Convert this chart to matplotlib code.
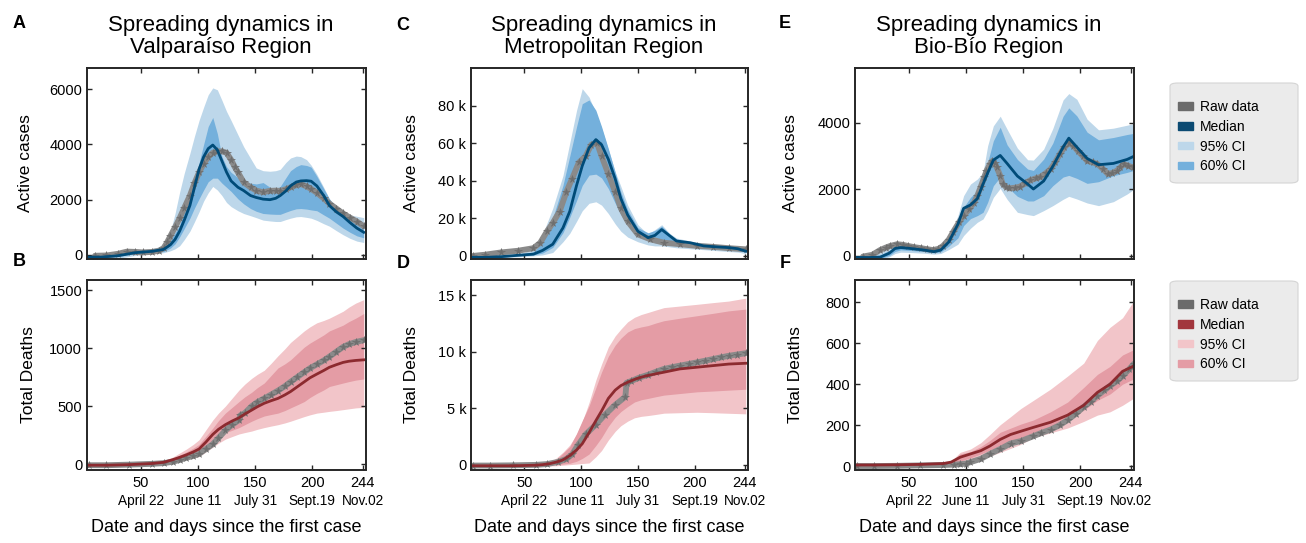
import numpy as np
import matplotlib.pyplot as plt
from matplotlib.patches import Patch, FancyBboxPatch

plt.rcParams['font.family'] = ['Liberation Sans', 'DejaVu Sans']

# ---------------- Valparaíso: active cases ----------------
val_days = [1, 15, 30, 45, 60, 70, 76, 80, 84, 88, 93, 97, 101, 105, 109, 113, 117, 121, 125, 129,
            135, 140, 146, 151, 157, 163, 168, 172, 177, 181, 186, 190, 195, 199, 204, 210, 215, 221,
            227, 233, 239, 245]
val_med = [-80, -80, -30, 80, 130, 200, 370, 560, 860, 1250, 1790, 2450, 3100, 3550, 3850, 3980, 3800,
           3400, 3000, 2680, 2450, 2330, 2150, 2080, 2020, 2000, 2050, 2150, 2320, 2500, 2640, 2680,
           2690, 2670, 2500, 2150, 1790, 1560, 1390, 1170, 970, 820]
val_hi95 = [0, 0, 60, 180, 220, 350, 860, 1500, 2270, 2950, 3680, 4300, 4870, 5350, 5800, 6050, 5980,
            5600, 5200, 4870, 4350, 3920, 3500, 3150, 3050, 3030, 3050, 3100, 3350, 3510, 3580, 3560,
            3450, 3250, 2920, 2450, 2030, 1750, 1550, 1450, 1400, 1350]
val_lo95 = [-150, -150, -120, -20, 40, 80, 150, 220, 330, 550, 860, 1200, 1560, 1950, 2250, 2480, 2350,
            2150, 1900, 1750, 1600, 1500, 1420, 1350, 1260, 1230, 1210, 1210, 1280, 1330, 1380, 1390,
            1360, 1330, 1250, 1130, 1040, 880, 730, 600, 500, 450]
val_hi60 = [-40, -40, 10, 130, 170, 250, 550, 800, 1080, 1650, 2270, 2800, 3330, 4000, 4650, 4980, 4390,
            3560, 3200, 2990, 2800, 2680, 2600, 2570, 2620, 2450, 2400, 2480, 2800, 3050, 3200, 3270,
            3240, 3180, 2850, 2400, 2030, 1700, 1480, 1330, 1200, 1100]
val_lo60 = [-100, -100, -60, 40, 90, 120, 250, 400, 650, 950, 1330, 1700, 2030, 2350, 2650, 2780, 2780,
            2600, 2450, 2300, 2030, 1850, 1680, 1580, 1500, 1480, 1470, 1470, 1550, 1610, 1670, 1680,
            1660, 1630, 1600, 1450, 1330, 1150, 970, 820, 690, 620]
val_raw_days = [10, 20, 30, 38, 45, 52, 60, 66, 70, 73, 76, 80, 84, 88, 93, 97, 101, 105, 109, 113, 117,
                121, 125, 129, 132, 135, 140, 146, 151, 157, 163, 168, 172, 177, 181, 186, 190, 195, 199,
                204, 210, 215, 221, 227, 233, 239, 245]
val_raw = [-30, -20, 40, 120, 110, 90, 110, 150, 250, 450, 690, 1000, 1330, 1700, 2150, 2600, 2990, 3300,
           3550, 3700, 3750, 3750, 3700, 3450, 3200, 2990, 2630, 2450, 2330, 2270, 2320, 2330, 2320, 2380,
           2450, 2530, 2570, 2480, 2390, 2250, 2050, 1860, 1680, 1500, 1350, 1210, 1040]

# ---------------- Valparaíso: total deaths ----------------
vald_days = [1, 20, 40, 60, 70, 78, 84, 90, 96, 101, 107, 113, 118, 124, 130, 136, 141, 147, 152, 158,
             164, 170, 176, 181, 187, 193, 198, 204, 210, 215, 221, 227, 232, 238, 245]
vald_med = [-10, -10, -5, 5, 15, 38, 58, 80, 105, 130, 190, 256, 300, 340, 372, 400, 432, 466, 495, 525,
            547, 567, 597, 626, 668, 710, 745, 777, 808, 836, 858, 878, 888, 895, 900]
vald_hi95 = [0, 0, 5, 15, 30, 60, 95, 130, 170, 210, 295, 380, 440, 500, 570, 640, 690, 740, 775, 810,
             870, 935, 995, 1050, 1100, 1150, 1185, 1220, 1240, 1260, 1290, 1320, 1355, 1390, 1420]
vald_hi60 = [-5, -5, 0, 10, 22, 48, 75, 105, 138, 170, 240, 310, 375, 440, 490, 540, 580, 620, 660, 700,
             765, 830, 865, 900, 955, 1010, 1045, 1080, 1115, 1150, 1175, 1200, 1230, 1260, 1300]
vald_lo60 = [-15, -15, -10, 0, 8, 25, 40, 58, 72, 88, 135, 185, 225, 270, 292, 315, 340, 370, 392, 415,
             428, 440, 462, 485, 512, 540, 575, 610, 640, 670, 685, 700, 712, 725, 735]
vald_lo95 = [-20, -20, -15, -5, 3, 15, 28, 40, 52, 65, 105, 145, 180, 215, 238, 260, 272, 285, 300, 315,
             328, 340, 355, 370, 390, 410, 425, 440, 448, 455, 462, 470, 477, 485, 490]
vald_raw_days = [5, 20, 40, 60, 70, 78, 84, 90, 96, 101, 107, 113, 118, 124, 130, 136, 137, 141, 147, 152,
                 158, 164, 170, 176, 181, 187, 193, 198, 204, 210, 215, 221, 227, 232, 238, 245]
vald_raw = [-10, -10, -5, 2, 8, 20, 35, 55, 70, 88, 130, 172, 225, 290, 340, 380, 420, 441, 500, 535, 567,
            600, 634, 672, 710, 752, 794, 828, 861, 895, 928, 970, 1012, 1035, 1054, 1070]

# ---------------- Metropolitan: active cases ----------------
met_days = [1, 15, 30, 44, 58, 66, 75, 84, 90, 96, 101, 107, 113, 118, 124, 130, 135, 141, 150, 159,
            165, 171, 178, 184, 196, 208, 219, 230, 238, 245]
met_med = [-800, -800, -400, 300, 900, 2900, 6200, 14900, 23700, 37500, 47900, 57500, 61900, 59200, 51400,
           41000, 30500, 21800, 13100, 9700, 10900, 14000, 10700, 7900, 7000, 5300, 4800, 4400, 3800, 2500]
met_hi95 = [-500, -500, 0, 800, 3600, 11400, 25300, 42700, 60100, 77500, 89000, 84500, 76000, 68000, 56600,
            44800, 37000, 27000, 16600, 11400, 14000, 16600, 12000, 9500, 7900, 6800, 6100, 5300, 4800, 4200]
met_hi60 = [-700, -700, -300, 500, 2200, 7000, 20100, 37500, 53100, 68800, 81000, 83000, 77500, 68800, 57000,
            44500, 34000, 24500, 15000, 12300, 13500, 15800, 11500, 9000, 7400, 6300, 5600, 4800, 4200, 3600]
met_lo60 = [-1200, -1200, -700, 0, 500, 1500, 4500, 12300, 20500, 29500, 37500, 43000, 43500, 41500, 35800,
            28000, 22000, 16600, 11400, 8200, 7000, 6500, 6000, 5600, 5000, 4600, 4000, 3300, 2900, 2000]
met_lo95 = [-1500, -1500, -1000, -500, 0, 500, 1800, 7500, 12000, 18400, 24000, 28000, 28800, 27000, 22500,
            17000, 13100, 10000, 7500, 5800, 5300, 5300, 4800, 4300, 3800, 3300, 2800, 2300, 2000, 1200]
met_raw_days = [5, 15, 29, 44, 58, 64, 70, 75, 81, 87, 92, 98, 104, 109, 114, 118, 124, 130, 135, 141,
                150, 161, 173, 187, 202, 216, 230, 245]
met_raw = [0, 600, 1800, 2700, 4100, 7000, 13100, 17500, 23600, 34000, 41000, 49700, 53100, 59200, 60100,
           53100, 43600, 34000, 25300, 18400, 11400, 8800, 7000, 6200, 5300, 4800, 4100, 3500]

# ---------------- Metropolitan: total deaths ----------------
metd_days = [1, 20, 40, 60, 66, 72, 78, 84, 90, 96, 101, 107, 113, 118, 124, 130, 135, 141, 147, 153,
             159, 166, 173, 187, 202, 216, 230, 245]
metd_med = [-100, -100, -100, -50, 0, 80, 220, 420, 800, 1300, 1850, 2830, 3900, 4750, 5870, 6600, 7000,
            7300, 7550, 7750, 7900, 8050, 8190, 8480, 8630, 8770, 8910, 8980]
metd_hi95 = [0, 0, 0, 0, 30, 200, 580, 1100, 1740, 2700, 3800, 5510, 7500, 8900, 10430, 11400, 12000,
             12650, 13050, 13300, 13480, 13700, 13910, 14050, 14200, 14350, 14490, 14750]
metd_hi60 = [-50, -50, -50, -30, 10, 150, 450, 1020, 1600, 2760, 3900, 5200, 6820, 8200, 9600, 10590,
             11200, 11750, 12050, 12200, 12320, 12550, 12750, 12970, 13190, 13400, 13620, 13780]
metd_lo60 = [-150, -150, -150, -100, -80, -50, 0, 50, 120, 300, 550, 940, 1700, 2400, 3400, 4200, 4700,
             5150, 5550, 5750, 5870, 6020, 6160, 6300, 6450, 6520, 6600, 6680]
metd_lo95 = [-200, -200, -200, -150, -150, -120, -100, -50, 0, 50, 100, 150, 700, 1250, 2180, 2950, 3450,
             3850, 4150, 4280, 4350, 4450, 4560, 4600, 4640, 4600, 4550, 4500]
metd_raw_days = [5, 20, 40, 60, 70, 80, 87, 92, 97, 104, 113, 121, 130, 139, 140, 144, 151, 159, 166, 173,
                 180, 187, 195, 202, 209, 216, 223, 230, 237, 245]
metd_raw = [-80, -80, -60, -20, 50, 250, 510, 900, 1700, 2680, 3550, 4420, 5290, 6020, 7250, 7400, 7700,
            7960, 8230, 8480, 8630, 8770, 8920, 9060, 9200, 9350, 9500, 9640, 9750, 9870]

# ---------------- Bío-Bío: active cases ----------------
bio_days = [1, 15, 25, 33, 38, 43, 52, 63, 72, 78, 85, 93, 98, 104, 110, 115, 119, 124, 130, 136, 145,
            154, 159, 168, 176, 185, 190, 197, 206, 216, 229, 241, 246]
bio_med = [-60, -60, -50, 70, 210, 240, 210, 165, 116, 165, 406, 940, 1420, 1520, 1710, 2150, 2480, 2870,
           3010, 2770, 2390, 2150, 2000, 2240, 2680, 3260, 3530, 3260, 2920, 2730, 2770, 2890, 2970]
bio_hi95 = [0, 0, 80, 250, 340, 340, 300, 240, 180, 240, 520, 1200, 1800, 2150, 2300, 2500, 3300, 3900,
            4190, 3800, 3230, 2880, 2870, 3200, 3820, 4680, 4870, 4700, 4100, 3780, 3830, 3920, 3960]
bio_hi60 = [-30, -30, 20, 150, 270, 290, 260, 200, 150, 200, 450, 1010, 1450, 1750, 1950, 2300, 2800, 3450,
            3860, 3330, 2890, 2600, 2560, 2900, 3380, 4190, 4440, 4200, 3710, 3480, 3550, 3640, 3670]
bio_lo60 = [-100, -100, -90, 0, 120, 170, 150, 120, 80, 110, 280, 530, 900, 1110, 1200, 1300, 1600, 2100,
            2360, 2070, 1780, 1640, 1640, 1800, 2100, 2360, 2410, 2320, 2170, 2220, 2400, 2500, 2550]
bio_lo95 = [-130, -130, -120, -40, 60, 100, 90, 70, 40, 60, 180, 340, 600, 820, 1000, 1100, 1350, 1750,
            2020, 1690, 1300, 1230, 1200, 1350, 1500, 1690, 1780, 1700, 1580, 1500, 1620, 1850, 1970]
bio_raw_days = [10, 18, 25, 30, 34, 40, 45, 49, 55, 61, 66, 71, 76, 80, 85, 89, 94, 98, 103, 107, 110, 113,
                116, 118, 121, 123, 125, 127, 130, 132, 135, 138, 143, 147, 152, 156, 161, 165, 170, 174,
                178, 182, 186, 190, 194, 198, 202, 206, 211, 215, 220, 224, 228, 232, 235, 238, 242, 246]
bio_raw = [-30, 20, 165, 240, 290, 340, 320, 290, 250, 220, 190, 165, 200, 290, 480, 720, 1000, 1200, 1400,
           1590, 1800, 2070, 2350, 2550, 2750, 2840, 2780, 2650, 2400, 2160, 2060, 2020, 2040, 2070, 2170,
           2260, 2320, 2360, 2480, 2600, 2800, 3040, 3250, 3380, 3300, 3140, 3000, 2850, 2800, 2750, 2600,
           2460, 2480, 2550, 2650, 2750, 2700, 2650]

# ---------------- Bío-Bío: total deaths ----------------
biod_days = [1, 20, 40, 60, 80, 87, 95, 104, 113, 121, 130, 139, 148, 159, 174, 189, 203, 215, 226, 237, 246]
biod_med = [5, 5, 6, 8, 12, 19, 43, 59, 75, 98, 130, 154, 170, 189, 214, 249, 297, 360, 400, 463, 487]
biod_hi95 = [10, 10, 12, 15, 18, 24, 67, 83, 114, 154, 202, 241, 281, 321, 376, 440, 503, 614, 678, 725, 801]
biod_hi60 = [8, 8, 9, 11, 15, 21, 59, 70, 95, 125, 165, 185, 205, 225, 265, 313, 384, 448, 487, 543, 567]
biod_lo60 = [2, 2, 3, 5, 9, 14, 24, 40, 59, 78, 98, 118, 138, 162, 186, 225, 273, 321, 352, 400, 424]
biod_lo95 = [0, 0, 1, 3, 6, 9, 11, 20, 30, 48, 67, 86, 106, 138, 162, 186, 218, 249, 265, 297, 329]
biod_raw_days = [5, 20, 40, 60, 80, 90, 95, 100, 104, 113, 121, 130, 139, 148, 159, 166, 174, 182, 189, 196,
                 203, 209, 215, 221, 226, 232, 237, 243, 247]
biod_raw = [0, 0, 1, 3, 5, 7, 9, 12, 19, 35, 59, 83, 110, 122, 146, 162, 178, 200, 225, 255, 289, 315, 344,
            370, 392, 415, 440, 475, 500]

day_ticks = [50, 100, 150, 200, 244]
date_labels = ['April 22', 'June 11', 'July 31', 'Sept.19', 'Nov.02']
legend_labels = ['Raw data', 'Median', '95% CI', '60% CI']

blue = {'c95': '#bdd7ea', 'c60': '#74b0dc', 'med': '#004b78', 'leg': '#0b4a72'}
red = {'c95': '#f2c5c9', 'c60': '#e49ca5', 'med': '#8c2a2f', 'leg': '#a2363d'}
dark = '#262626'

W, H = 1306, 543
fig = plt.figure(figsize=(W / 100, H / 100), dpi=100)


def add_ax(left, width, top, bottom):
    return fig.add_axes([left / W, 1 - bottom / H, width / W, (bottom - top) / H])


def draw(ax, days, med, lo95, hi95, lo60, hi60, rdays, raw, col):
    ax.fill_between(days, lo95, hi95, color=col['c95'], lw=0)
    ax.fill_between(days, lo60, hi60, color=col['c60'], lw=0)
    # raw data: thick fuzzy grey band of asterisks
    ax.plot(rdays, raw, color='#8a8a8a', lw=4.2, solid_capstyle='round')
    ax.plot(rdays, raw, color='#6e6e6e', lw=0, marker='*', ms=5.5, mew=0.4)
    ax.plot(days, med, color=col['med'], lw=2.0)
    ax.set_xlim(3, 247)
    ax.set_xticks(day_ticks)
    ax.tick_params(direction='in', top=True, right=True, length=3.5, width=1,
                   color=dark, labelsize=10.5, pad=3.5)
    ax.tick_params(axis='x', pad=5)
    for s in ax.spines.values():
        s.set_linewidth(1.4)
        s.set_color(dark)


lefts = [87, 471, 855]
widths = [279, 277, 279]
titles = ['Spreading dynamics in\nValparaíso Region',
          'Spreading dynamics in\nMetropolitan Region',
          'Spreading dynamics in\nBio-Bío Region']

top_sets = [
    (val_days, val_med, val_lo95, val_hi95, val_lo60, val_hi60, val_raw_days, val_raw),
    (met_days, met_med, met_lo95, met_hi95, met_lo60, met_hi60, met_raw_days, met_raw),
    (bio_days, bio_med, bio_lo95, bio_hi95, bio_lo60, bio_hi60, bio_raw_days, bio_raw),
]
bot_sets = [
    (vald_days, vald_med, vald_lo95, vald_hi95, vald_lo60, vald_hi60, vald_raw_days, vald_raw),
    (metd_days, metd_med, metd_lo95, metd_hi95, metd_lo60, metd_hi60, metd_raw_days, metd_raw),
    (biod_days, biod_med, biod_lo95, biod_hi95, biod_lo60, biod_hi60, biod_raw_days, biod_raw),
]
top_ylims = [(-130, 6770), (-1400, 100000), (-90, 5640)]
bot_ylims = [(-47, 1594), (-430, 16400), (-17, 912)]
top_yticks = [[0, 2000, 4000, 6000], [0, 20000, 40000, 60000, 80000], [0, 2000, 4000]]
top_ylabels = [None, ['0', '20 k', '40 k', '60 k', '80 k'], None]
bot_yticks = [[0, 500, 1000, 1500], [0, 5000, 10000, 15000], [0, 200, 400, 600, 800]]
bot_ylabels = [None, ['0', '5 k', '10 k', '15 k'], None]
top_lab_x = [-0.192, -0.188, -0.204]
bot_lab_x = [-0.183, -0.186, -0.186]

for i in range(3):
    ax = add_ax(lefts[i], widths[i], 68, 258.5)
    draw(ax, *top_sets[i], blue)
    ax.set_ylim(*top_ylims[i])
    ax.set_yticks(top_yticks[i])
    if top_ylabels[i]:
        ax.set_yticklabels(top_ylabels[i])
    ax.set_xticklabels([])
    ax.set_ylabel('Active cases', fontsize=12.5)
    ax.yaxis.set_label_coords(top_lab_x[i], 0.5)
    ax.set_title(titles[i], fontsize=16, pad=11, x=0.478, linespacing=1.05)

    bx = add_ax(lefts[i], widths[i], 279.5, 469.5)
    draw(bx, *bot_sets[i], red)
    bx.set_ylim(*bot_ylims[i])
    bx.set_yticks(bot_yticks[i])
    if bot_ylabels[i]:
        bx.set_yticklabels(bot_ylabels[i])
    bx.set_xticklabels([str(d) for d in day_ticks])
    bx.set_ylabel('Total Deaths', fontsize=12.5)
    bx.yaxis.set_label_coords(bot_lab_x[i], 0.5)
    for d, lab in zip(day_ticks, date_labels):
        bx.text(d, -0.165, lab, transform=bx.get_xaxis_transform(), ha='center',
                va='center', fontsize=9.8)
    bx.text(0.5, -0.305, 'Date and days since the first case', transform=bx.transAxes,
            ha='center', va='center', fontsize=13)

# panel letters
for lab, x, y in [('A', 19, 24), ('B', 19, 261), ('C', 403, 25), ('D', 403, 263),
                  ('E', 785, 23), ('F', 785, 263)]:
    fig.text(x / W, 1 - y / H, lab, fontsize=13, fontweight='bold', ha='center', va='center')

# legends
for col, top in [(blue, 83), (red, 281)]:
    fig.add_artist(FancyBboxPatch((1170 / W, 1 - (top + 100) / H), 128 / W, 100 / H,
                                  boxstyle='round,pad=0,rounding_size=0.006',
                                  transform=fig.transFigure, fc='#ebebeb', ec='#d4d4d4',
                                  lw=0.8, zorder=1))
    handles = [Patch(color='#6b6b6b'), Patch(color=col['leg']),
               Patch(color=col['c95']), Patch(color=col['c60'])]
    fig.legend(handles, legend_labels, loc='upper left',
               bbox_to_anchor=(1178 / W, 1 - (top + 17) / H), frameon=False, fontsize=10,
               handlelength=1.1, handleheight=0.45, handletextpad=0.5, labelspacing=0.42,
               borderpad=0, borderaxespad=0)

fig.savefig('out.png', dpi=100)
